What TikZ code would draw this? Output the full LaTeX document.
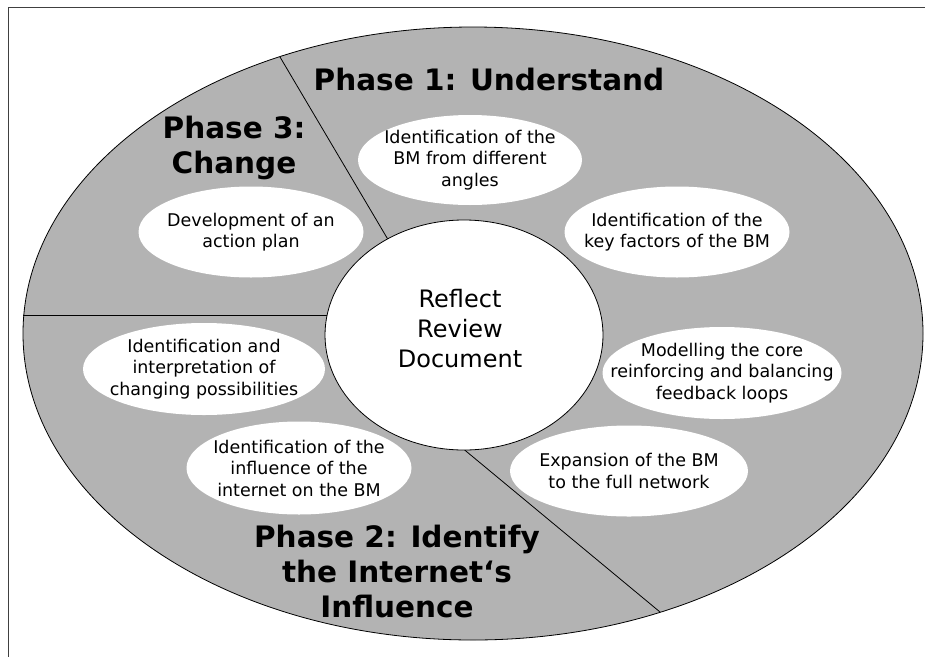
\documentclass[tikz,border=0pt]{standalone}
\usepackage{fontspec}
\setmainfont{DejaVu Sans}
\usetikzlibrary{shapes.geometric}
\definecolor{phasegray}{RGB}{179,179,179}
\tikzset{
  itembox/.style={ellipse, fill=white, inner sep=0pt},
  itemtext/.style={align=center, inner sep=0pt, font=\fontsize{17.5}{21.5}\selectfont},
  phasetext/.style={align=center, inner sep=0pt, anchor=base, font=\fontsize{29.5}{35}\selectfont\bfseries},
  divider/.style={draw=black, line width=0.8pt},
}
\begin{document}
\begin{tikzpicture}[x=1pt,y=-1pt]
\useasboundingbox (0,0) rectangle (925,656);
\draw[black!75, line width=0.9pt] (8,700) -- (8,7) -- (960,7);
\node[ellipse, draw, fill=phasegray, minimum width=900pt, minimum height=613pt, inner sep=0pt, line width=0.8pt] (outer) at (473,333.5) {};
\coordinate (d1a) at (280,57);
\coordinate (d1b) at (393,248);
\coordinate (d2a) at (23,315);
\coordinate (d2b) at (345,315);
\coordinate (d3a) at (660,612);
\coordinate (d3b) at (455,442);
\draw[divider] (d1a) -- (d1b);
\draw[divider] (d2a) -- (d2b);
\draw[divider] (d3a) -- (d3b);
\node[ellipse, draw, fill=white, minimum width=278pt, minimum height=230pt, inner sep=0pt, line width=0.8pt] (core) at (464,335) {};
\node[align=center, inner sep=0pt, font=\fontsize{24}{30}\selectfont] (coretext) at (460,329) {Reflect\\Review\\Document};
% items
\node[itembox, minimum width=224pt, minimum height=90pt] (i1) at (470,160) {};
\node[itemtext] (i1t) at (i1) {Identification of the\\BM from different\\angles};
\node[itembox, minimum width=225pt, minimum height=91pt] (i2) at (677,232) {};
\node[itemtext] (i2t) at (i2) {Identification of the\\key factors of the BM};
\node[itembox, minimum width=225pt, minimum height=91pt] (i3) at (251,232) {};
\node[itemtext] (i3t) at (i3) {Development of an\\action plan};
\node[itembox, minimum width=242pt, minimum height=92pt] (i4) at (204,369) {};
\node[itemtext] (i4t) at (i4) {Identification and\\interpretation of\\changing possibilities};
\node[itembox, minimum width=225pt, minimum height=93pt] (i5) at (299,468) {};
\node[itemtext] (i5t) at (i5) {Identification of the\\influence of the\\internet on the BM};
\node[itembox, minimum width=239pt, minimum height=92pt] (i6) at (722,373) {};
\node[itemtext] (i6t) at (i6) {Modelling the core\\reinforcing and balancing\\feedback loops};
\node[itembox, minimum width=238pt, minimum height=91pt] (i7) at (629,471) {};
\node[itemtext] (i7t) at (i7) {Expansion of the BM\\to the full network};
% phases (base anchor = baseline of the last line)
\node[phasetext] (p1) at (489,90) {Phase 1: Understand};
\node[phasetext] (p3) at (234,173) {Phase 3:\\Change};
\node[phasetext] (p2) at (397,617) {Phase 2: Identify\\the Internet‘s\\Influence};
\end{tikzpicture}
\end{document}
